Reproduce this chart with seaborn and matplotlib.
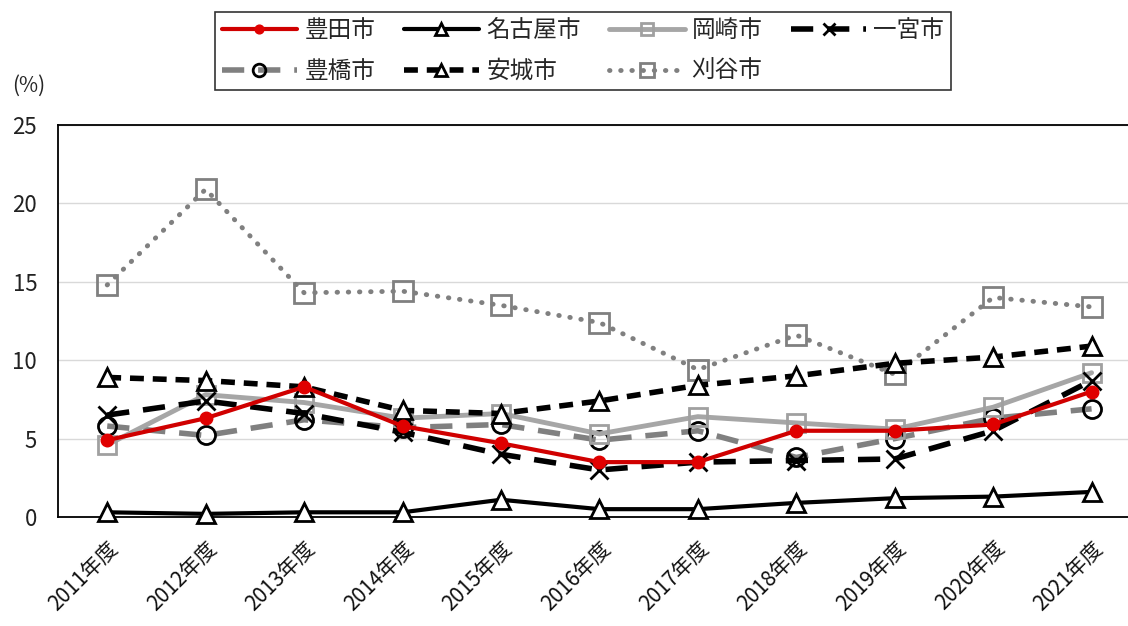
import matplotlib
matplotlib.use("Agg")
import matplotlib.pyplot as plt
import matplotlib.transforms as mtransforms
import seaborn as sns
import pandas as pd

years = ["2011年度", "2012年度", "2013年度", "2014年度", "2015年度", "2016年度",
         "2017年度", "2018年度", "2019年度", "2020年度", "2021年度"]

toyota = [4.9, 6.3, 8.3, 5.8, 4.7, 3.5, 3.5, 5.5, 5.5, 5.9, 8.0]
nagoya = [0.3, 0.2, 0.3, 0.3, 1.1, 0.5, 0.5, 0.9, 1.2, 1.3, 1.6]
okazaki = [4.6, 7.8, 7.3, 6.3, 6.6, 5.3, 6.4, 6.0, 5.6, 7.0, 9.2]
ichinomiya = [6.5, 7.4, 6.6, 5.4, 4.0, 3.0, 3.5, 3.6, 3.7, 5.5, 8.7]
toyohashi = [5.8, 5.2, 6.2, 5.7, 5.9, 4.9, 5.5, 3.8, 5.0, 6.3, 6.9]
anjo = [8.9, 8.7, 8.3, 6.8, 6.6, 7.4, 8.4, 9.0, 9.8, 10.2, 10.9]
kariya = [14.8, 20.9, 14.3, 14.4, 13.5, 12.4, 9.4, 11.6, 9.1, 14.0, 13.4]

yticks = [0, 5, 10, 15, 20, 25]

sns.set_theme(style="white")
plt.rcParams["font.family"] = ["Noto Sans CJK JP", "DejaVu Sans"]

fig = plt.figure(figsize=(11.28, 6.26), dpi=100)
ax = fig.add_axes([58 / 1128, 1 - 517 / 626, 1 - 58 / 1128, (517 - 125) / 626])

series = [
    ("豊田市", toyota, dict(color="#D00000", lw=3, ls="-", marker="o", ms=9,
                          mfc="#E00000", mec="#E00000", mew=1, zorder=9)),
    ("名古屋市", nagoya, dict(color="black", lw=3, ls="-", marker="^", ms=13,
                            mfc="white", mec="black", mew=2, zorder=5)),
    ("岡崎市", okazaki, dict(color="#A6A6A6", lw=3.5, ls="-", marker="s", ms=13,
                           mfc="none", mec="#A0A0A0", mew=2, zorder=4)),
    ("一宮市", ichinomiya, dict(color="black", lw=4, ls=(0, (4, 2.5)), marker="x", ms=13,
                              mec="black", mew=2, zorder=6)),
    ("豊橋市", toyohashi, dict(color="#808080", lw=4, ls=(0, (4, 2.5)), marker="o", ms=13,
                             mfc="none", mec="black", mew=2, zorder=3)),
    ("安城市", anjo, dict(color="black", lw=4, ls=(0, (2.5, 1.6)), marker="^", ms=13,
                        mfc="white", mec="black", mew=2, zorder=7)),
    ("刈谷市", kariya, dict(color="#808080", lw=3.5, ls=(0, (0.1, 2.2)), marker="s", ms=14,
                          mfc="none", mec="#808080", mew=2, zorder=2,
                          dash_capstyle="round")),
]

handles = {}
for name, vals, style in series:
    df = pd.DataFrame({"year": years, "value": vals})
    kw = dict(style)
    capstyle = kw.pop("dash_capstyle", None)
    sns.lineplot(data=df, x="year", y="value", ax=ax, sort=False, label=name,
                 clip_on=False, **kw)
    line = ax.get_lines()[-1]
    if capstyle:
        line.set_dash_capstyle(capstyle)
    handles[name] = line

ax.set_ylim(0, 25)
ax.set_yticks(yticks)
ax.set_xlim(-0.5, 10.37)
ax.set_xlabel("")
ax.set_ylabel("")
ax.yaxis.grid(True, color="#D9D9D9", lw=1)
ax.xaxis.grid(False)
ax.set_axisbelow(True)

for side in ["left", "bottom", "top"]:
    ax.spines[side].set_visible(True)
    ax.spines[side].set_color("black")
    ax.spines[side].set_linewidth(1.3)
ax.spines["right"].set_visible(False)

ax.tick_params(axis="y", labelsize=16, pad=15, length=0)
ax.tick_params(axis="x", labelsize=15, length=0, pad=20)
for lbl in ax.get_yticklabels():
    lbl.set_color("#222222")
shift = mtransforms.ScaledTranslation(8 / 100, 0, fig.dpi_scale_trans)
for lbl in ax.get_xticklabels():
    lbl.set_rotation(45)
    lbl.set_ha("right")
    lbl.set_va("center")
    lbl.set_rotation_mode("anchor")
    lbl.set_transform(lbl.get_transform() + shift)
    lbl.set_color("#111111")

fig.text(12 / 1128, 1 - 86 / 626, "(%)", fontsize=15, va="center", ha="left")

# legend laid out row by row: 4 entries on top, 3 below (matplotlib fills columns)
order = ["豊田市", "豊橋市", "名古屋市", "安城市", "岡崎市", "刈谷市", "一宮市"]
ax.get_legend().remove()
leg = fig.legend(handles=[handles[n] for n in order], labels=order, ncol=4,
                 loc="center", bbox_to_anchor=(583 / 1128, 1 - 51 / 626),
                 fontsize=17, frameon=True, fancybox=False, edgecolor="black",
                 handlelength=3.2, columnspacing=1.2, handletextpad=0.3,
                 borderpad=0.3, labelspacing=0.75, markerscale=0.7)
leg.get_frame().set_linewidth(1.2)

fig.savefig("out.png", dpi=100)
